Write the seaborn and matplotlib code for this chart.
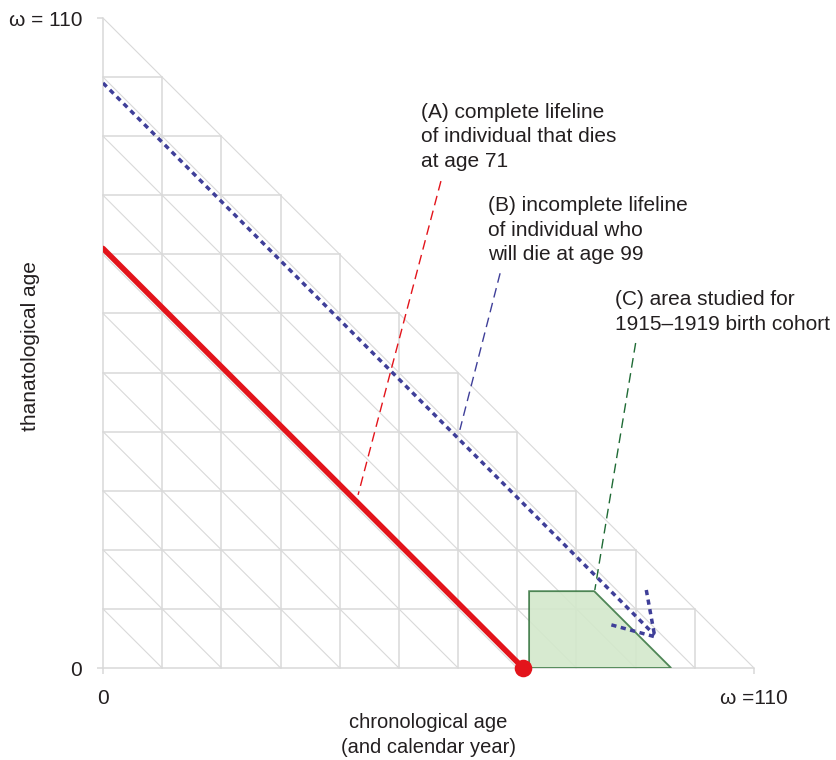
import matplotlib
matplotlib.use("Agg")
import matplotlib.pyplot as plt
import seaborn as sns

# Lexis-style triangle: chronological vs thanatological age
omega = 110
grid_levels = [0, 10, 20, 30, 40, 50, 60, 70, 80, 90, 100, 110]
tick_vals = [0, 110]
xtick_labels = ["0", "ω =110"]
ytick_labels = ["0", "ω = 110"]

# (A) complete lifeline, dies at 71
life_a_x = [0, 71]
life_a_y = [71, 0]
death_a = [71, 0]

# (B) incomplete lifeline, will die at 99 (ends with a dotted arrow)
life_b_x = [0, 93.2]
life_b_y = [99, 5.6]
head_b1_x = [91.8, 93.2]
head_b1_y = [13.2, 5.5]
head_b2_x = [85.9, 93.2]
head_b2_y = [7.3, 5.3]

# (C) area studied for 1915-1919 birth cohort
cohort_x = [72, 72, 83, 96]
cohort_y = [0, 13, 13, 0]

# annotation texts and leader lines
note_a = "(A) complete lifeline\nof individual that dies\nat age 71"
note_b = "(B) incomplete lifeline\nof individual who\nwill die at age 99"
note_c = "(C) area studied for\n1915–1919 birth cohort"
lead_a_x = [57.1, 43.1]
lead_a_y = [82.4, 29.3]
lead_b_x = [67.1, 60.3]
lead_b_y = [66.8, 40.3]
lead_c_x = [90.0, 83.1]
lead_c_y = [55.0, 13.2]

sns.set_theme(style="white")
plt.rcParams['font.family'] = ['Liberation Sans', 'DejaVu Sans']
txt = "#231f20"
grid_c = "#d9d9d9"
red = "#e3141b"
blue = "#3f3f99"
green = "#1f6b35"

fig = plt.figure(figsize=(8.36, 7.6), dpi=100)
ax = fig.add_axes([103/836, 92/760, 651/836, 650/760])
ax.set_xlim(0, omega)
ax.set_ylim(0, omega)
for s in ax.spines.values():
    s.set_visible(False)

# grid of the triangle
for g in grid_levels:
    ax.plot([g, g], [0, omega - g], color=grid_c, lw=1.1, zorder=1, clip_on=False)
    ax.plot([0, omega - g], [g, g], color=grid_c, lw=1.1, zorder=1, clip_on=False)
    if g > 0:
        ax.plot([0, g], [g, 0], color=grid_c, lw=0.8, zorder=1, clip_on=False)

# cohort area
ax.fill(cohort_x, cohort_y, facecolor="#d3e8cb", edgecolor="#3d7a46", lw=1.3, alpha=0.9, zorder=2)

# lifelines
sns.lineplot(x=life_a_x, y=life_a_y, ax=ax, color=red, linewidth=4, sort=False, zorder=4)
sns.scatterplot(x=[death_a[0]], y=[death_a[1]], ax=ax, color=red, s=160, linewidth=0, zorder=5, clip_on=False)
for xs, ys in [(life_b_x, life_b_y), (head_b1_x, head_b1_y), (head_b2_x, head_b2_y)]:
    sns.lineplot(x=xs, y=ys, ax=ax, color=blue, linewidth=2.5, sort=False,
                 linestyle=(0, (1.5, 1.3)), zorder=4)

# leader lines
for xs, ys, c in [(lead_a_x, lead_a_y, red), (lead_b_x, lead_b_y, blue), (lead_c_x, lead_c_y, green)]:
    ax.plot(xs, ys, color=c, lw=1.0, linestyle=(0, (7, 4)), zorder=3)

ax.text(53.7, 95.7, note_a, ha="left", va="top", fontsize=15, color=txt, linespacing=1.38)
ax.text(65.0, 79.9, note_b, ha="left", va="top", fontsize=15, color=txt, linespacing=1.38)
ax.text(86.5, 63.9, note_c, ha="left", va="top", fontsize=15, color=txt, linespacing=1.38)

# axes ticks & labels
ax.set_xticks(tick_vals)
ax.set_xticklabels(xtick_labels, fontsize=15, color=txt)
ax.set_yticks(tick_vals)
ax.set_yticklabels(ytick_labels, fontsize=15, color=txt)
ax.tick_params(axis="x", direction="out", length=4, width=1.1, color=grid_c, pad=11, bottom=True)
ax.tick_params(axis="y", direction="out", length=4, width=1.1, color=grid_c, pad=11, left=True)
ax.set_xlabel("chronological age\n(and calendar year)", fontsize=14.5, color=txt, linespacing=1.38)
ax.xaxis.set_label_coords(0.5, -0.069)
ax.set_ylabel("thanatological age", fontsize=15, color=txt)
ax.yaxis.set_label_coords(-0.097, 0.495)
ax.grid(False)

fig.savefig("out.png", dpi=100)
